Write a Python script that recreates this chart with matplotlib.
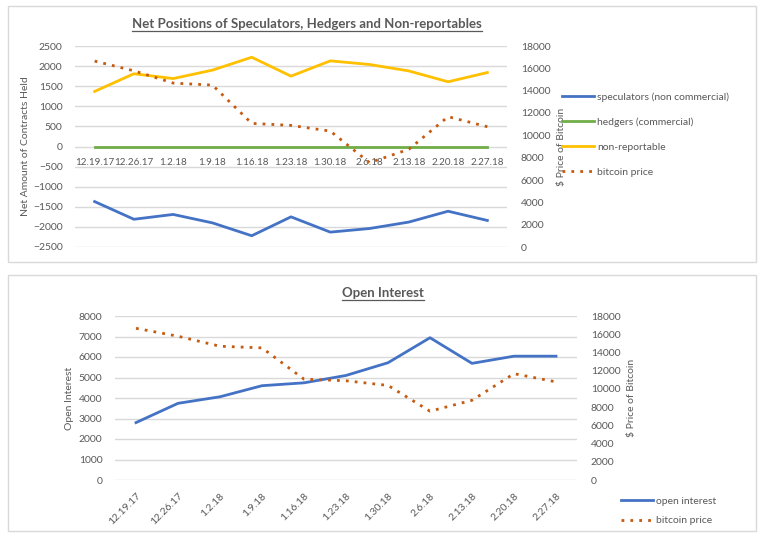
import numpy as np
import matplotlib.pyplot as plt
from matplotlib.patches import Rectangle
from matplotlib.lines import Line2D

# ----- DANE -----
dates = ["12.19.17", "12.26.17", "1.2.18", "1.9.18", "1.16.18", "1.23.18",
         "1.30.18", "2.6.18", "2.13.18", "2.20.18", "2.27.18"]
speculators = [-1370, -1810, -1690, -1900, -2220, -1750, -2130, -2040, -1880, -1610, -1840]
hedgers = [0, 0, 0, 0, 0, 0, 0, 0, 0, 0, 0]
non_reportable = [1370, 1810, 1690, 1900, 2220, 1750, 2130, 2040, 1880, 1610, 1840]
bitcoin_price = [16650, 15780, 14680, 14500, 11070, 10890, 10380, 7550, 8750, 11670, 10770]
open_interest = [2800, 3740, 4060, 4600, 4740, 5100, 5720, 6940, 5690, 6040, 6040]

BLUE = "#4472C4"
GREEN = "#70AD47"
YELLOW = "#FFC000"
ORANGE = "#C55A11"
TXT = "#595959"
GRID = "#D9D9D9"
FS = 7.5

plt.rcParams['font.family'] = ['Lato', 'DejaVu Sans']
plt.rcParams['font.size'] = FS

W, H = 768, 543
fig = plt.figure(figsize=(W / 100, H / 100), dpi=100)


def box(x0, y0, x1, y1):
    # prostokąt w pikselach (y od góry)
    return [x0 / W, 1 - y1 / H, (x1 - x0) / W, (y1 - y0) / H]


# ramki paneli
for (y0, y1) in [(6, 262), (275, 531)]:
    fig.patches.append(Rectangle((8 / W, 1 - y1 / H), 748 / W, (y1 - y0) / H,
                                 transform=fig.transFigure, fill=False,
                                 edgecolor=GRID, lw=1))

x = np.arange(len(dates))


def style(ax):
    for s in ax.spines.values():
        s.set_visible(False)
    ax.tick_params(length=0, colors=TXT, labelsize=FS)


# ----- WYKRES 1 -----
ax1 = fig.add_axes(box(75, 46, 507, 247))
ax1.set_ylim(-2500, 2500)
ax1.set_yticks(np.arange(-2500, 2501, 500))
ax1.set_xlim(-0.5, 10.5)
ax1.grid(axis='y', color=GRID, lw=1)
ax1.set_axisbelow(True)
ax1.plot(x, speculators, color=BLUE, lw=2, label="speculators (non commercial)")
ax1.plot(x, hedgers, color=GREEN, lw=2, label="hedgers (commercial)")
ax1.plot(x, non_reportable, color=YELLOW, lw=2, label="non-reportable")
style(ax1)
ax1.spines['bottom'].set_position(('data', 0))
ax1.set_xticks(x)
ax1.set_xticklabels(dates)
ax1.tick_params(axis='x', pad=8, labelsize=7.1)
ax1.tick_params(axis='y', pad=9)
ax1.set_ylabel("Net Amount of Contracts Held", color=TXT, fontsize=FS)
ax1.yaxis.set_label_coords(-0.104, 0.5)

ax1b = ax1.twinx()
ax1b.set_ylim(0, 18000)
ax1b.set_yticks(np.arange(0, 18001, 2000))
ax1b.plot(x, bitcoin_price, color=ORANGE, lw=2, ls=(0, (1, 2.2)), label="bitcoin price")
style(ax1b)
ax1b.tick_params(axis='y', pad=10)
ax1b.set_ylabel("$ Price of Bitcoin", color=TXT, fontsize=FS)
ax1b.yaxis.set_label_coords(1.116, 0.5)

h1, l1 = ax1.get_legend_handles_labels()
h2, l2 = ax1b.get_legend_handles_labels()
fig.legend(h1 + h2, l1 + l2, loc='upper left', bbox_to_anchor=(553 / W, 1 - 83 / H),
           frameon=False, handlelength=3.0, labelspacing=1.5, fontsize=FS,
           labelcolor=TXT, handletextpad=0.3)

# ----- WYKRES 2 -----
ax2 = fig.add_axes(box(115, 316, 577, 480))
ax2.set_ylim(0, 8000)
ax2.set_yticks(np.arange(0, 8001, 1000))
ax2.set_xlim(-0.5, 10.5)
ax2.grid(axis='y', color=GRID, lw=1)
ax2.set_axisbelow(True)
ax2.plot(x, open_interest, color=BLUE, lw=2, label="open interest")
style(ax2)
ax2.set_xticks(x)
ax2.set_xticklabels(dates, rotation=45, ha='right', rotation_mode='anchor')
ax2.tick_params(axis='x', pad=8)
ax2.tick_params(axis='y', pad=9)
ax2.set_ylabel("Open Interest", color=TXT, fontsize=FS)
ax2.yaxis.set_label_coords(-0.089, 0.5)

ax2b = ax2.twinx()
ax2b.set_ylim(0, 18000)
ax2b.set_yticks(np.arange(0, 18001, 2000))
ax2b.plot(x, bitcoin_price, color=ORANGE, lw=2, ls=(0, (1, 2.2)), label="bitcoin price")
style(ax2b)
ax2b.tick_params(axis='y', pad=10)
ax2b.set_ylabel("$ Price of Bitcoin", color=TXT, fontsize=FS)
ax2b.yaxis.set_label_coords(1.108, 0.5)

h1, l1 = ax2.get_legend_handles_labels()
h2, l2 = ax2b.get_legend_handles_labels()
fig.legend(h1 + h2, l1 + l2, loc='upper left', bbox_to_anchor=(612 / W, 1 - 487 / H),
           frameon=False, handlelength=3.0, labelspacing=1.0, fontsize=FS,
           labelcolor=TXT, handletextpad=0.3)

# ----- TYTUŁY (podkreślone) -----
titles = [("Net Positions of Speculators, Hedgers and Non-reportables", 307, 24),
          ("Open Interest", 383, 293)]
fig.canvas.draw()
for txt, cx, cy in titles:
    t = fig.text(cx / W, 1 - cy / H, txt, ha='center', va='center',
                 fontsize=9.5, fontweight='bold', color=TXT)
    bb = t.get_window_extent(renderer=fig.canvas.get_renderer())
    fig.lines.append(Line2D([bb.x0 / W, bb.x1 / W], [(bb.y0 - 1) / H] * 2,
                            transform=fig.transFigure, color=TXT, lw=0.9))

fig.savefig("out.png", dpi=100)
